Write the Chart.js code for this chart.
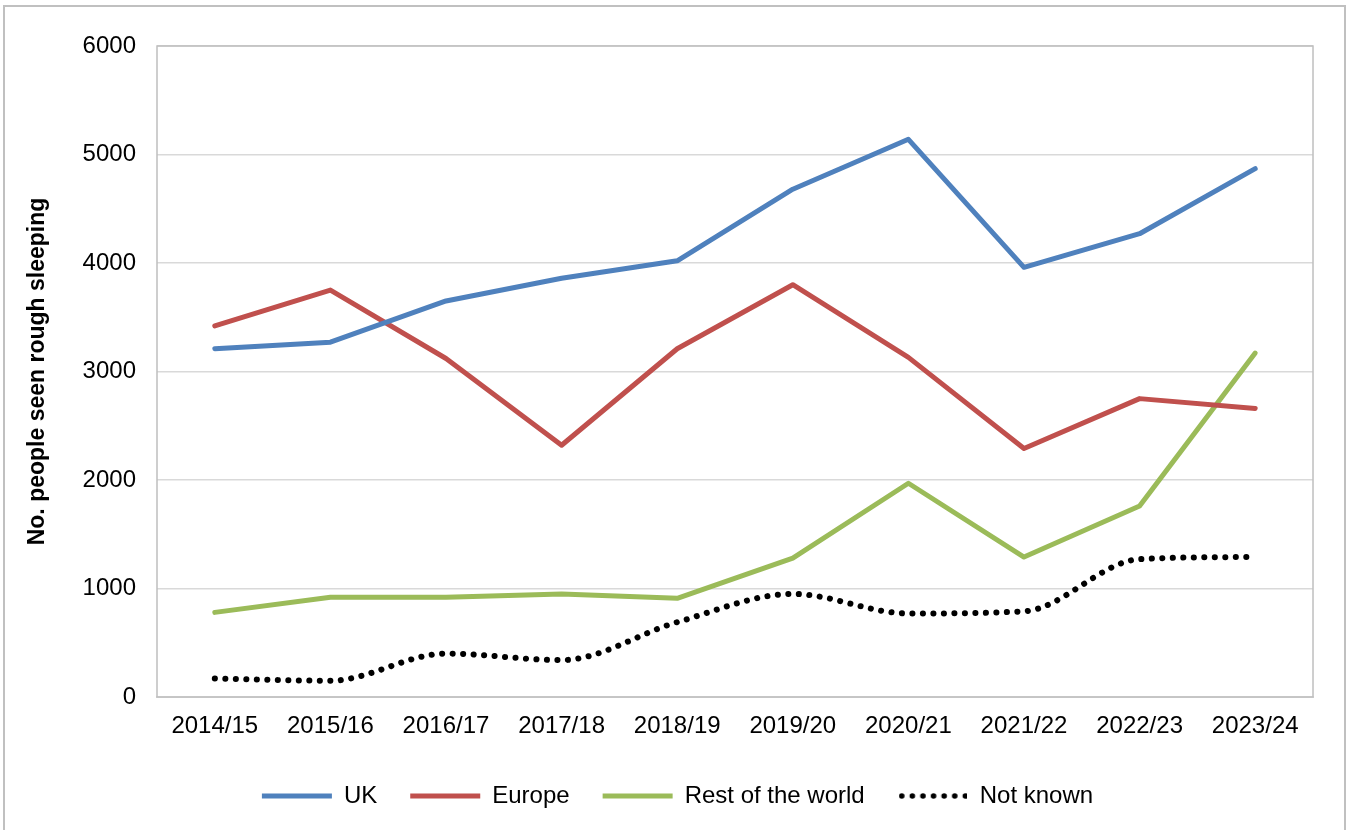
<!DOCTYPE html>
<html>
<head>
<meta charset="utf-8">
<script src="https://cdn.jsdelivr.net/npm/chart.js@4/dist/chart.umd.min.js"></script>
<style>
 html,body{margin:0;padding:0;background:#fff;overflow:hidden}
 #wrap{position:absolute;left:0;top:0;width:1346px;height:830px}
 #frame{position:absolute;left:3px;top:5px;width:1339px;height:840px;border:2px solid #c0c0c0;pointer-events:none}
</style>
</head>
<body>
<div id="wrap"><canvas id="c"></canvas></div>
<div id="frame"></div>
<script>
/* ----- DATA ----- */
const years=["2014/15","2015/16","2016/17","2017/18","2018/19","2019/20","2020/21","2021/22","2022/23","2023/24"];
const uk=[3210,3270,3650,3860,4020,4680,5140,3960,4270,4870];
const europe=[3420,3750,3120,2320,3210,3800,3130,2290,2750,2660];
const restOfWorld=[780,920,920,950,910,1280,1970,1290,1760,3170];
const notKnown=[170,150,400,340,690,950,770,790,1270,1290];

const FONT="'Liberation Sans', Arial, sans-serif";

/* ----- plot frame + legend nudge ----- */
const plotBorder={
 id:"plotBorder",
 afterLayout(chart){
  // legend is centred on the full page in the original, not on the padded box
  chart.legend.left+=21;
  chart.legend.right+=21;
 },
 afterDraw(chart){
  const a=chart.chartArea, ctx=chart.ctx;
  ctx.save();
  ctx.strokeStyle="#bfbfbf";
  ctx.lineWidth=1.5;
  ctx.strokeRect(a.left,a.top,a.right-a.left,a.bottom-a.top);
  ctx.restore();
 }
};

/* dotted swatch for the legend */
function dotSwatch(){
 const c=document.createElement("canvas");
 c.width=68; c.height=8;
 const g=c.getContext("2d");
 g.fillStyle="#000";
 for(let x=3;x<68;x+=10.6){
  g.beginPath(); g.arc(x,4,2.8,0,Math.PI*2); g.fill();
 }
 return c;
}
const dots=dotSwatch();

function line(label,data,color,extra){
 return Object.assign({
  label:label,
  data:data,
  borderColor:color,
  backgroundColor:color,
  borderWidth:5,
  borderCapStyle:"round",
  borderJoinStyle:"round",
  pointRadius:0,
  tension:0
 },extra||{});
}

new Chart(document.getElementById("c"),{
 type:"line",
 data:{
  labels:years,
  datasets:[
   line("UK",uk,"#4f81bd"),
   line("Europe",europe,"#c0504d"),
   line("Rest of the world",restOfWorld,"#9bbb59"),
   line("Not known",notKnown,"#000000",{
    borderWidth:6,
    borderDash:[0.1,10.4],
    cubicInterpolationMode:"monotone"
   })
  ]
 },
 options:{
  responsive:true,
  maintainAspectRatio:false,
  animation:false,
  layout:{padding:{top:46,right:33,bottom:12,left:0}},
  plugins:{
   tooltip:{enabled:false},
   legend:{
    position:"bottom",
    labels:{
     usePointStyle:true,
     pointStyle:"line",
     pointStyleWidth:70,
     padding:33,
     color:"#000",
     font:{family:FONT,size:24},
     generateLabels(chart){
      const items=Chart.defaults.plugins.legend.labels.generateLabels(chart);
      items.forEach(it=>{
       if(it.text==="Not known") it.pointStyle=dots;
      });
      return items;
     }
    }
   }
  },
  scales:{
   x:{
    offset:true,
    grid:{display:false,drawTicks:false},
    border:{display:true,color:"#d9d9d9",width:2},
    ticks:{color:"#000",padding:15,maxRotation:0,autoSkip:false,font:{family:FONT,size:24}},
    afterFit(s){s.height=54;}
   },
   y:{
    min:0,max:6000,
    grid:{color:"#d9d9d9",lineWidth:1.5,drawTicks:false},
    border:{display:false},
    ticks:{
     stepSize:1000,color:"#000",padding:21,
     font:{family:FONT,size:24},
     callback:v=>String(v)
    },
    title:{
     display:true,
     text:"No. people seen rough sleeping",
     color:"#000",
     padding:{top:24,bottom:0},
     font:{family:FONT,size:23,weight:"bold"}
    },
    afterFit(s){s.width=157;}
   }
  }
 },
 plugins:[plotBorder]
});
</script>
</body>
</html>
